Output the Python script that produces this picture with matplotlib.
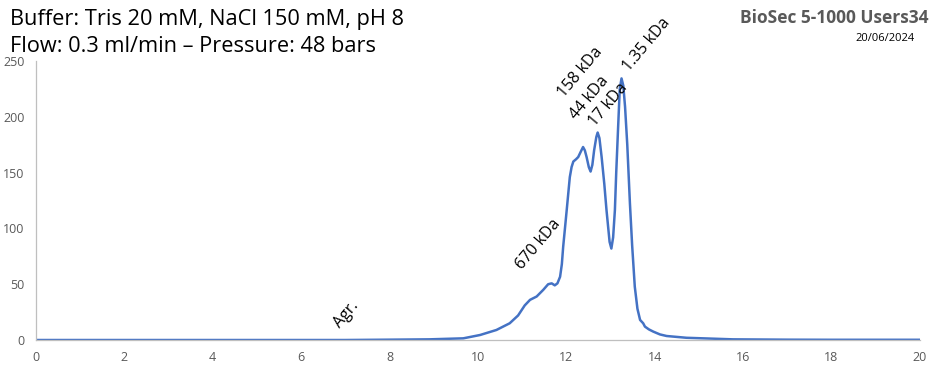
import numpy as np
import matplotlib.pyplot as plt

plt.rcParams['font.family'] = ['Open Sans', 'DejaVu Sans']

# elution volume (ml) and absorbance
volume = [0.0, 2.0, 4.0, 6.0, 7.0, 8.0, 8.9, 9.67, 10.05, 10.42, 10.72, 10.91,
          11.06, 11.18, 11.33, 11.48, 11.59, 11.67, 11.74, 11.80, 11.86, 11.90,
          11.93, 11.97, 12.01, 12.08, 12.12, 12.16, 12.22, 12.27, 12.33, 12.38,
          12.42, 12.46, 12.51, 12.55, 12.59, 12.63, 12.68, 12.71, 12.75, 12.80,
          12.86, 12.91, 12.98, 13.02, 13.06, 13.10, 13.13, 13.17, 13.21, 13.25,
          13.29, 13.33, 13.38, 13.44, 13.49, 13.55, 13.61, 13.67, 13.74, 13.78,
          13.87, 13.97, 14.12, 14.27, 14.72, 15.77, 17.0, 18.0, 20.0]
signal = [0.0, 0.0, 0.0, 0.0, 0.0, 0.3, 0.6, 1.5, 4.5, 9.0, 15.0, 22.0,
          31.0, 36.0, 39.0, 45.0, 50.0, 50.8, 49.0, 50.8, 56.7, 68.0,
          83.6, 100.0, 116.5, 146.0, 155.0, 160.0, 162.0, 164.0, 169.0, 173.0,
          170.0, 164.0, 155.0, 151.0, 157.0, 170.0, 182.0, 186.0, 181.0, 164.0,
          140.0, 116.5, 88.0, 82.0, 92.0, 116.5, 150.0, 188.0, 225.0, 234.5,
          228.0, 209.0, 175.0, 122.5, 85.0, 47.8, 28.0, 18.0, 15.0, 12.0,
          9.5, 7.5, 5.0, 3.6, 2.0, 0.6, 0.3, 0.2, 0.2]

peak_labels = ['Agr.', '670 kDa', '158 kDa', '44 kDa', '17 kDa', '1.35 kDa']

grey = '#595959'

fig = plt.figure(figsize=(9.43, 3.66), dpi=100)
ax = fig.add_axes([0.038, 0.071, 0.9375, 0.762])

ax.plot(volume, signal, color='#4472C4', lw=1.8, solid_joinstyle='round')

ax.set_xlim(0, 20)
ax.set_ylim(0, 250)
ax.set_xticks(np.arange(0, 21, 2))
ax.set_yticks(np.arange(0, 251, 50))
ax.tick_params(length=0, labelsize=9, labelcolor=grey, pad=8)
for s in ['top', 'right']:
    ax.spines[s].set_visible(False)
for s in ['left', 'bottom']:
    ax.spines[s].set_color('#BFBFBF')
    ax.spines[s].set_linewidth(0.9)

# label anchors (data coords, lower-left of text)
label_pos = [(6.88, 10), (11.0, 63), (11.95, 217), (12.22, 197),
             (12.64, 191), (13.42, 240)]
for txt, (lx, ly) in zip(peak_labels, label_pos):
    ax.text(lx, ly, txt, rotation=50, rotation_mode='anchor', ha='left',
            va='baseline', fontsize=11.5, color='black')

fig.text(10 / 943, 1 - 25 / 366, 'Buffer: Tris 20 mM, NaCl 150 mM, pH 8',
         fontsize=15.7, ha='left', va='baseline')
fig.text(10 / 943, 1 - 52 / 366, 'Flow: 0.3 ml/min \u2013 Pressure: 48 bars',
         fontsize=15.7, ha='left', va='baseline')
fig.text(928 / 943, 1 - 23 / 366, 'BioSec 5-1000 Users34', fontsize=12.5,
         fontweight='bold', color=grey, ha='right', va='baseline')
fig.text(915 / 943, 1 - 41 / 366, '20/06/2024', fontsize=8, color='black',
         ha='right', va='baseline')

fig.savefig('out.png', dpi=100)
